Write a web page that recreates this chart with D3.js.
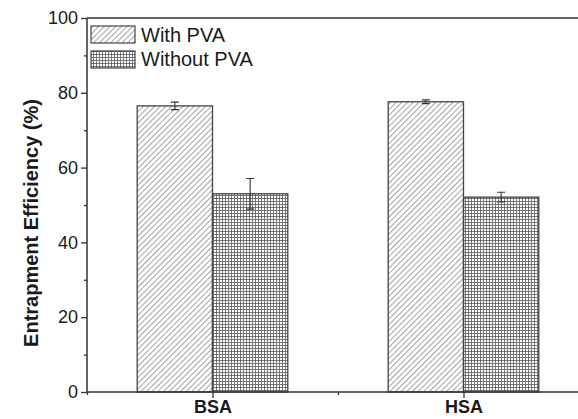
<!DOCTYPE html>
<html>
<head>
<meta charset="utf-8">
<script src="https://cdn.jsdelivr.net/npm/d3@7"></script>
<style>
  body { margin: 0; background: #fff; }
  text { font-family: "Liberation Sans", Arial, sans-serif; fill: #1a1a1a; }
</style>
</head>
<body>
<div class="chart"></div>
<script>
var width = 578, height = 419;

// data
var categories = ["BSA", "HSA"];
var seriesNames = ["With PVA", "Without PVA"];
var withPVA = [76.5, 77.6];
var withPVAErr = [1.0, 0.5];
var withoutPVA = [53.0, 52.1];
var withoutPVAErr = [4.1, 1.3];
var yTicks = [0, 20, 40, 60, 80, 100];

var svg = d3.select(".chart")
    .append("svg")
    .attr("width", width)
    .attr("height", height);

var defs = svg.append("defs");

// diagonal hatch
var hatch = defs.append("pattern")
    .attr("id", "hatch")
    .attr("patternUnits", "userSpaceOnUse")
    .attr("width", 4).attr("height", 4)
    .attr("patternTransform", "rotate(45)");
hatch.append("rect").attr("width", 4).attr("height", 4).attr("fill", "#fff");
hatch.append("line")
    .attr("x1", 0).attr("y1", 0).attr("x2", 0).attr("y2", 4)
    .attr("stroke", "#555").attr("stroke-width", 1.1);

// fine grid
var grid = defs.append("pattern")
    .attr("id", "grid")
    .attr("patternUnits", "userSpaceOnUse")
    .attr("width", 3).attr("height", 3);
grid.append("rect").attr("width", 3).attr("height", 3).attr("fill", "#fff");
grid.append("path")
    .attr("d", "M0,0.5H3M0.5,0V3")
    .attr("fill", "none")
    .attr("stroke", "#666").attr("stroke-width", 0.9);

var x = d3.scaleLinear().domain([0.5, 2.5]).range([87, 589]);
var y = d3.scaleLinear().domain([0, 100]).range([392, 18]);
var barW = x(0.8) - x(0.5);

var g = svg.append("g");

// bars
var bars = [];
categories.forEach(function(c, i) {
  bars.push({pos: i + 1, side: -1, v: withPVA[i], e: withPVAErr[i], fill: "url(#hatch)"});
  bars.push({pos: i + 1, side: 0, v: withoutPVA[i], e: withoutPVAErr[i], fill: "url(#grid)"});
});

g.selectAll("rect.bar")
    .data(bars)
    .enter().append("rect")
    .attr("class", "bar")
    .attr("x", function(d) { return x(d.pos) + d.side * barW; })
    .attr("y", function(d) { return y(d.v); })
    .attr("width", barW)
    .attr("height", function(d) { return y(0) - y(d.v); })
    .attr("fill", function(d) { return d.fill; })
    .attr("stroke", "#444")
    .attr("stroke-width", 1.3);

// error bars
var eb = g.selectAll("g.err")
    .data(bars)
    .enter().append("g")
    .attr("class", "err")
    .attr("transform", function(d) { return "translate(" + (x(d.pos) + d.side * barW + barW / 2) + ",0)"; });
eb.append("path")
    .attr("d", function(d) {
      return "M0," + y(d.v + d.e) + "V" + y(d.v - d.e) +
        "M-4," + y(d.v + d.e) + "H4M-4," + y(d.v - d.e) + "H4";
    })
    .attr("stroke", "#333").attr("stroke-width", 1.1).attr("fill", "none");

// axes
var yAxis = d3.axisLeft(y).tickValues(yTicks).tickSize(6).tickPadding(3);
var yg = svg.append("g").attr("transform", "translate(87,0)").call(yAxis);
yg.select(".domain").remove();
yg.selectAll("text").style("font-size", "18px");
yg.selectAll("line").attr("stroke", "#333").attr("stroke-width", 1.3);

var yMinor = d3.axisLeft(y).tickValues([10, 30, 50, 70, 90]).tickSize(3).tickFormat("");
var ym = svg.append("g").attr("transform", "translate(87,0)").call(yMinor);
ym.select(".domain").remove();
ym.selectAll("line").attr("stroke", "#333").attr("stroke-width", 1.3);

var xAxis = d3.axisBottom(x).tickValues([1, 2]).tickSize(6).tickPadding(2)
    .tickFormat(function(d) { return categories[d - 1]; });
var xg = svg.append("g").attr("transform", "translate(0,392)").call(xAxis);
xg.select(".domain").remove();
xg.selectAll("text").style("font-size", "18px").style("font-weight", "bold");
xg.selectAll("line").attr("stroke", "#333").attr("stroke-width", 1.3);

var xMinor = d3.axisBottom(x).tickValues([0.5, 1.5]).tickSize(3).tickFormat("");
var xm = svg.append("g").attr("transform", "translate(0,392)").call(xMinor);
xm.select(".domain").remove();
xm.selectAll("line").attr("stroke", "#333").attr("stroke-width", 1.3);

// frame lines
svg.append("path")
    .attr("d", "M87," + y(100) + "V" + y(0) + "H" + width + "M87," + y(100) + "H" + width)
    .attr("stroke", "#333").attr("stroke-width", 1.5).attr("fill", "none");

// y label
svg.append("text")
    .attr("transform", "translate(38," + ((y(0) + y(100)) / 2 + 18) + ") rotate(-90)")
    .attr("text-anchor", "middle")
    .style("font-size", "20px")
    .style("font-weight", "bold")
    .text("Entrapment Efficiency (%)");

// legend
var legend = svg.append("g");
var legFills = ["url(#hatch)", "url(#grid)"];
seriesNames.forEach(function(s, i) {
  legend.append("rect")
      .attr("x", 91).attr("y", 26 + i * 25)
      .attr("width", 44).attr("height", 17)
      .attr("fill", legFills[i])
      .attr("stroke", "#444").attr("stroke-width", 1.2);
  legend.append("text")
      .attr("x", 141).attr("y", 42 + i * 24)
      .style("font-size", "20px")
      .text(s);
});
</script>
</body>
</html>
